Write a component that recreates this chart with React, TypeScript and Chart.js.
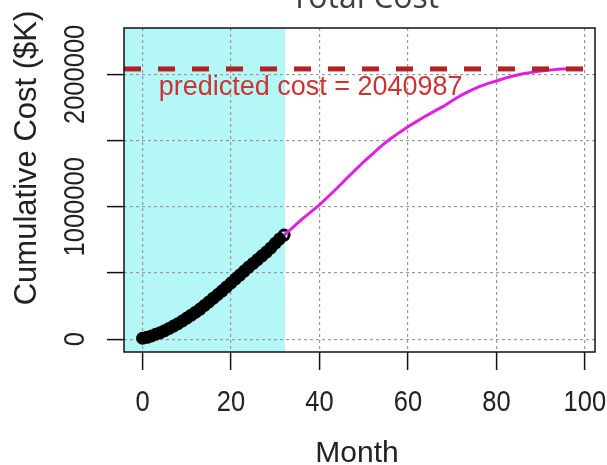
import React, { useEffect, useRef } from "react";
import { Chart, registerables } from "chart.js";

Chart.register(...registerables);

// ---- Data ----
const observedMonths = [0, 1, 2, 3, 4, 5, 6, 7, 8, 9, 10, 11, 12, 13, 14, 15, 16, 17, 18, 19, 20, 21, 22, 23, 24, 25, 26, 27, 28, 29, 30, 31, 32];
const observedCost = [8000, 15000, 25000, 38000, 50000, 65000, 82000, 100000, 118000, 138000, 160000, 182000, 205000, 228000, 255000, 282000, 310000, 338000, 366000, 395000, 425000, 455000, 485000, 515000, 545000, 573000, 602000, 630000, 658000, 690000, 725000, 758000, 787000];

const forecastMonths = [32, 34, 36, 38, 40, 42, 44, 46, 48, 50, 52, 54, 56, 58, 60, 62, 64, 66, 68, 70, 72, 74, 76, 78, 80, 82, 84, 86, 88, 90, 92, 94, 96, 98];
const forecastCost = [787000, 845000, 905000, 960000, 1015000, 1078000, 1142000, 1210000, 1275000, 1340000, 1400000, 1460000, 1512000, 1560000, 1605000, 1645000, 1685000, 1722000, 1758000, 1800000, 1842000, 1875000, 1905000, 1930000, 1950000, 1972000, 1990000, 2005000, 2015000, 2025000, 2032000, 2038000, 2042000, 2045000];

const predictedCost = 2040987;
const observedEnd = 32.2;
const labelMonth = 38;
const labelValue = 1900000;

const xTicks = [0, 20, 40, 60, 80, 100];
const xTickLabels = ["0", "20", "40", "60", "80", "100"];
const yTicks = [0, 500000, 1000000, 1500000, 2000000];
const yTickLabels = ["0", "", "1000000", "", "2000000"];

const titleText = "Total Cost";
const xTitle = "Month";
const yTitle = "Cumulative Cost ($K)";

const SANS = "'Liberation Sans', Arial, sans-serif";
const NARROW_SCALE = 0.85;

const overlay = {
  id: "overlay",
  beforeDraw(chart: any) {
    const { ctx, chartArea: a, scales } = chart;
    const xe = scales.x.getPixelForValue(observedEnd);
    ctx.save();
    ctx.fillStyle = "#b5f6f6";
    ctx.fillRect(a.left, a.top, xe - a.left, a.bottom - a.top);
    ctx.restore();
  },
  afterDatasetsDraw(chart: any) {
    const { ctx, chartArea: a, scales } = chart;
    const yp = scales.y.getPixelForValue(predictedCost);
    ctx.save();
    ctx.strokeStyle = "#b22222";
    ctx.lineWidth = 5;
    ctx.setLineDash([17, 17]);
    ctx.beginPath();
    ctx.moveTo(a.left, yp);
    ctx.lineTo(a.right, yp);
    ctx.stroke();
    ctx.setLineDash([]);
    ctx.fillStyle = "#cc3333";
    ctx.font = `27px ${SANS}`;
    ctx.textAlign = "center";
    ctx.textBaseline = "middle";
    ctx.fillText(
      `predicted cost = ${predictedCost}`,
      scales.x.getPixelForValue(labelMonth),
      scales.y.getPixelForValue(labelValue)
    );
    ctx.restore();
  },
  afterDraw(chart: any) {
    const { ctx, chartArea: a, scales } = chart;
    ctx.save();
    // box
    ctx.strokeStyle = "#111";
    ctx.lineWidth = 1.5;
    ctx.strokeRect(a.left, a.top, a.right - a.left, a.bottom - a.top);
    ctx.fillStyle = "#222";
    ctx.font = `30px ${SANS}`;
    ctx.textAlign = "center";
    ctx.textBaseline = "middle";
    // x tick labels
    xTicks.forEach((v, i) => {
      const px = scales.x.getPixelForValue(v);
      ctx.save();
      ctx.translate(px, 403);
      ctx.scale(NARROW_SCALE, 1);
      ctx.fillText(xTickLabels[i], 0, 0);
      ctx.restore();
    });
    // y tick labels (rotated)
    yTicks.forEach((v, i) => {
      const lab = yTickLabels[i];
      if (!lab) return;
      const py = scales.y.getPixelForValue(v);
      ctx.save();
      ctx.translate(76, py);
      ctx.rotate(-Math.PI / 2);
      ctx.scale(NARROW_SCALE, 1);
      ctx.fillText(lab, 0, 0);
      ctx.restore();
    });
    // y title
    ctx.font = `31px ${SANS}`;
    ctx.save();
    ctx.translate(27, 158);
    ctx.rotate(-Math.PI / 2);
    ctx.fillText(yTitle, 0, 0);
    ctx.restore();
    // x title
    ctx.font = `30px ${SANS}`;
    ctx.textBaseline = "alphabetic";
    ctx.fillText(xTitle, 357, 462);
    // main title (partially cut off at top)
    ctx.fillStyle = "#404040";
    ctx.font = `32px 'Open Sans', sans-serif`;
    ctx.fillText(titleText, 365, 8);
    ctx.restore();
  },
};

export default function App() {
  const ref = useRef<HTMLCanvasElement | null>(null);
  useEffect(() => {
    if (!ref.current) return;
    const pointFill = observedMonths.map((_, i) => (i === observedMonths.length - 1 ? "rgba(0,0,0,0)" : "#000"));
    const chart = new Chart(ref.current, {
      type: "scatter",
      data: {
        datasets: [
          {
            label: "forecast",
            data: forecastMonths.map((m, i) => ({ x: m, y: forecastCost[i] })),
            showLine: true,
            borderColor: "#e020e0",
            borderWidth: 3,
            pointRadius: 0,
            fill: false,
          },
          {
            label: "observed",
            data: observedMonths.map((m, i) => ({ x: m, y: observedCost[i] })),
            showLine: false,
            pointRadius: 5,
            pointBorderWidth: 3,
            borderColor: "#000",
            backgroundColor: pointFill,
            pointBackgroundColor: pointFill,
          },
        ],
      },
      options: {
        animation: false,
        responsive: false,
        events: [],
        layout: { padding: { left: 0, right: 12, top: 28, bottom: 0 } },
        plugins: { legend: { display: false }, tooltip: { enabled: false }, title: { display: false } },
        scales: {
          x: {
            type: "linear",
            min: -4.2,
            max: 102.3,
            afterBuildTicks: (s: any) => {
              s.ticks = xTicks.map((v) => ({ value: v }));
            },
            afterFit: (s: any) => {
              s.height = 113;
              s.paddingLeft = 0;
              s.paddingRight = 0;
            },
            grid: {
              color: "#9a9a9a",
              lineWidth: 1.2,
              drawTicks: true,
              tickLength: 18,
              tickColor: "#111",
              tickWidth: 1.5,
              tickBorderDash: [],
            },
            border: { display: false, dash: [3, 3] },
            ticks: { display: false },
          },
          y: {
            type: "linear",
            min: -96000,
            max: 2350000,
            afterBuildTicks: (s: any) => {
              s.ticks = yTicks.map((v) => ({ value: v }));
            },
            afterFit: (s: any) => {
              s.width = 124;
              s.paddingTop = 0;
              s.paddingBottom = 0;
            },
            grid: {
              color: "#9a9a9a",
              lineWidth: 1.2,
              drawTicks: true,
              tickLength: 17,
              tickColor: "#111",
              tickWidth: 1.5,
              tickBorderDash: [],
            },
            border: { display: false, dash: [3, 3] },
            ticks: { display: false },
          },
        },
      },
      plugins: [overlay],
    });
    return () => chart.destroy();
  }, []);
  return (
    <div style={{ position: "fixed", left: 0, top: 0, width: 607, height: 465, background: "#fff" }}>
      <canvas ref={ref} width={607} height={465} style={{ display: "block" }} />
    </div>
  );
}
